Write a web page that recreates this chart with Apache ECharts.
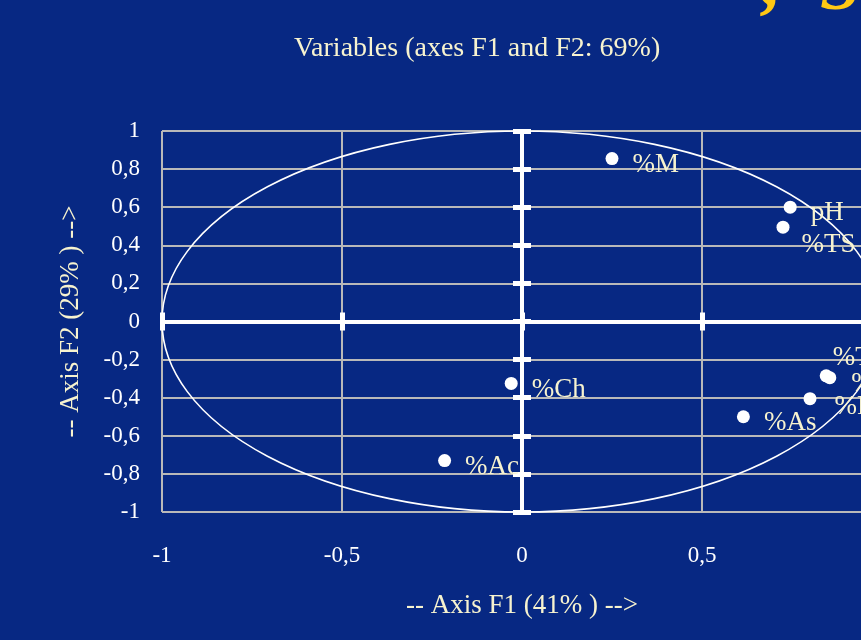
<!DOCTYPE html>
<html>
<head>
<meta charset="utf-8">
<script src="https://cdn.jsdelivr.net/npm/echarts@6/dist/echarts.min.js"></script>
<style>
html,body{margin:0;padding:0;background:#072883;overflow:hidden;width:861px;height:640px;}
#c{width:900px;height:640px;}
</style>
</head>
<body>
<div id="c"></div>
<script>
// ---- data ----
var titleText = 'Variables (axes F1 and F2: 69%)';
var xName = '-- Axis F1 (41% ) -->';
var yName = '-- Axis F2 (29% ) -->';
var varNames = ['%M', 'pH', '%TS', '%TA', '%Pr', '%Fe', '%As', '%Ch', '%Ac'];
var f1Values = [0.25, 0.745, 0.725, 0.845, 0.855, 0.80, 0.615, -0.03, -0.215];
var f2Values = [0.855, 0.60, 0.495, -0.285, -0.295, -0.405, -0.50, -0.325, -0.73];
var xTicks = [-1, -0.5, 0, 0.5, 1];
var yTicks = [-1, -0.8, -0.6, -0.4, -0.2, 0, 0.2, 0.4, 0.6, 0.8, 1];

var serif = '"Liberation Serif","Times New Roman",serif';
var cream = '#f7f3cf';
var gridGray = '#b9b9b9';

function fmt(v) {
  var r = Math.round(v * 10) / 10;
  return String(r).replace('.', ',');
}

// label nudges [dx, dy] in pixels
var labelNudge = [[0, 6], [0, 6], [-2, 18], [-14, -18], [1, 6], [4, 8], [0, 6], [0, 6], [0, 6]];

var pts = varNames.map(function (n, i) {
  return { value: [f1Values[i], f2Values[i]], name: n };
});

var chart = echarts.init(document.getElementById('c'), null, { renderer: 'canvas' });

function zeroAxis(dim, inside) {
  return {
    type: 'value', min: -1, max: 1,
    interval: dim === 'x' ? 0.5 : 0.2,
    axisLine: { show: true, onZero: true, lineStyle: { color: '#ffffff', width: 4 } },
    axisTick: { show: true, inside: inside, length: 9, lineStyle: { color: '#ffffff', width: 5 } },
    axisLabel: { show: false },
    splitLine: { show: false },
    z: 5
  };
}

var option = {
  backgroundColor: '#072883',
  animation: false,
  title: {
    text: titleText,
    left: 289,
    top: 30,
    textStyle: { color: cream, fontFamily: serif, fontSize: 28, fontWeight: 'normal' }
  },
  graphic: [
    { type: 'text', left: 762, top: -57, style: { text: ',', fill: '#ffc814', font: 'italic bold 80px ' + serif, shadowColor: 'rgba(0,0,0,0.7)', shadowOffsetX: 3, shadowOffsetY: 3, shadowBlur: 2 } },
    { type: 'text', left: 820, top: -46, style: { text: 'S', fill: '#ffc814', font: 'italic bold 72px ' + serif, shadowColor: 'rgba(0,0,0,0.7)', shadowOffsetX: 3, shadowOffsetY: 3, shadowBlur: 2 } }
  ],
  grid: { left: 162, right: 18, top: 131, bottom: 128, containLabel: false },
  xAxis: [
    {
      type: 'value', min: xTicks[0], max: xTicks[xTicks.length - 1], interval: 0.5,
      position: 'bottom',
      axisLine: { show: false, onZero: false },
      axisTick: { show: false },
      splitLine: { show: true, lineStyle: { color: gridGray, width: 2 } },
      axisLabel: { color: '#ffffff', fontFamily: serif, fontSize: 23, margin: 32, formatter: fmt },
      name: xName, nameLocation: 'middle', nameGap: 80,
      nameTextStyle: { color: cream, fontFamily: serif, fontSize: 27 }
    },
    zeroAxis('x', false),
    zeroAxis('x', true)
  ],
  yAxis: [
    {
      type: 'value', min: yTicks[0], max: yTicks[yTicks.length - 1], interval: 0.2,
      position: 'left',
      axisLine: { show: false, onZero: false },
      axisTick: { show: false },
      splitLine: { show: true, lineStyle: { color: gridGray, width: 2 } },
      axisLabel: { color: '#ffffff', fontFamily: serif, fontSize: 23, margin: 22, formatter: fmt },
      name: yName, nameLocation: 'middle', nameGap: 78, nameRotate: 90,
      nameTextStyle: { color: cream, fontFamily: serif, fontSize: 27 }
    },
    zeroAxis('y', false),
    zeroAxis('y', true)
  ],
  series: [
    {
      type: 'custom',
      xAxisIndex: 0, yAxisIndex: 0,
      data: [[0, 0]],
      clip: false,
      z: 3,
      renderItem: function (params, api) {
        var c = api.coord([0, 0]);
        var s = api.size([1, 1]);
        var rx = s[0], ry = s[1];
        return {
          type: 'path',
          shape: {
            pathData: 'M0,1 A1,1 0 1,0 2,1 A1,1 0 1,0 0,1 Z',
            x: c[0] - rx, y: c[1] - ry, width: 2 * rx, height: 2 * ry, layout: 'cover'
          },
          style: { fill: 'none', stroke: '#ffffff', lineWidth: 1.6 }
        };
      }
    },
    {
      type: 'scatter',
      xAxisIndex: 0, yAxisIndex: 0,
      data: pts,
      symbol: 'circle',
      symbolSize: 13,
      z: 10,
      itemStyle: { color: '#ffffff', opacity: 1 },
      label: {
        show: true, position: 'right', distance: 14,
        formatter: '{b}',
        color: cream, fontFamily: serif, fontSize: 27
      },
      labelLayout: function (p) {
        var n = labelNudge[p.dataIndex] || [0, 0];
        return { dx: n[0], dy: n[1], hideOverlap: false };
      },
      emphasis: { disabled: true }
    }
  ]
};
chart.setOption(option);
</script>
</body>
</html>
